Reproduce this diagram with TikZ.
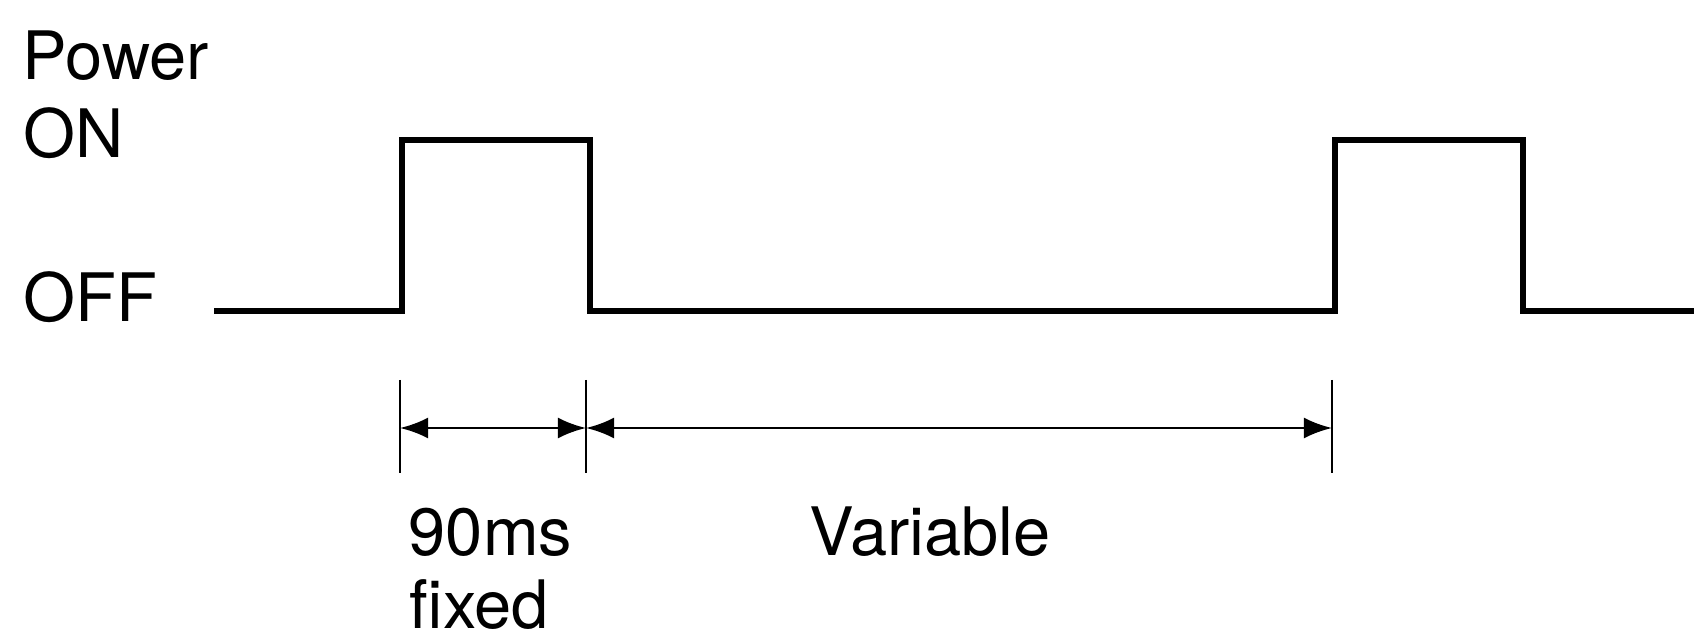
\documentclass[tikz,border=0pt]{standalone}
\usepackage{fontspec}
\setmainfont{TeX Gyre Heros}
\usetikzlibrary{arrows.meta}

\begin{document}
\begin{tikzpicture}[x=0.01cm,y=-0.01cm,
    lbl/.style={anchor=base west,inner sep=0pt,font=\fontsize{19}{21}\selectfont},
    wave/.style={line width=1.9pt,line join=miter},
    dim/.style={line width=0.8pt,{Latex[length=8pt,width=6pt]}-{Latex[length=8pt,width=6pt]}},
    tick/.style={line width=0.6pt}]
    \useasboundingbox (0,0) rectangle (1694,640);
    %Level labels
    \node[lbl] (power) at (22,80) {Power};
    \node[lbl] (on) at (23,158) {ON};
    \node[lbl] (off) at (23,322) {OFF};
    %Pulse train
    \draw[wave] (214,311) -- (402,311) -- (402,140) -- (590,140) -- (590,311)
        -- (1335,311) -- (1335,140) -- (1523,140) -- (1523,311) -- (1694,311);
    %Dimension marks
    \coordinate (ta) at (400,428);
    \coordinate (tb) at (586,428);
    \coordinate (tc) at (1332,428);
    \foreach \t in {ta,tb,tc}
        \draw[tick] ([yshift=0.48cm]\t) -- ([yshift=-0.45cm]\t);
    \draw[dim] (ta) -- (tb);
    \draw[dim] (tb) -- (tc);
    \node[lbl] (fixtime) at (408,555) {90ms};
    \node[lbl] (fixword) at (409,628) {fixed};
    \node[lbl] (vartime) at (809,555) {Variable};
\end{tikzpicture}
\end{document}
